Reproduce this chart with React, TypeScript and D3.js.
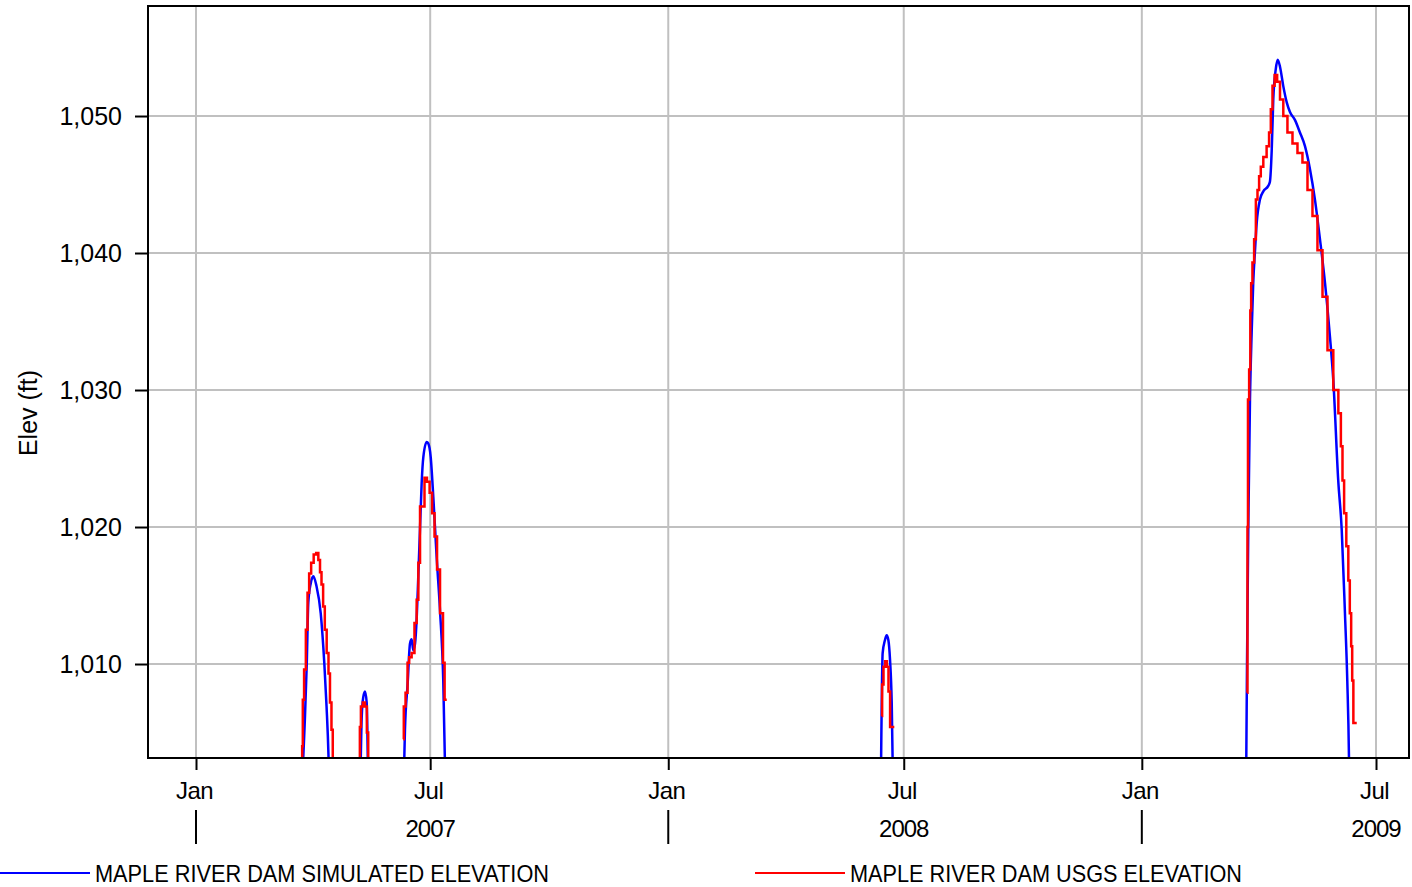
import React, { useRef, useEffect } from 'react';
import * as d3 from 'd3';

// days counted from 2007-01-01 (UTC), elevation in ft
const BASE_DATE = Date.UTC(2007, 0, 1);
const X_DOMAIN_DAYS = [-37.1, 937.5];
const Y_DOMAIN = [1003.14, 1058.03];
const Y_TICKS = [1010, 1020, 1030, 1040, 1050];
const MONTH_TICKS = ['2007-01-01', '2007-07-01', '2008-01-01', '2008-07-01', '2009-01-01', '2009-07-01'];
const YEAR_TICKS = ['2007-01-01', '2008-01-01', '2009-01-01'];
const YEAR_LABELS = [['2007-07-01', '2007'], ['2008-07-01', '2008'], ['2009-07-01', '2009']];

// simulated elevation, one array per wet period
const simApr2007 = [[81.2, 1000], [84.2, 1006.1], [85.6, 1010], [86.8, 1014.5], [88.7, 1015.9], [90.7, 1016.4],
  [93.1, 1015.7], [96.4, 1013.7], [99.2, 1010], [100.9, 1006.9], [102.4, 1003.3], [103.2, 1000]];
const simMay2007 = [[126.8, 1000], [128.1, 1006.2], [129.3, 1007.6], [130.6, 1008], [131.9, 1007.2], [133.2, 1000]];
const simJun2007 = [[160.2, 1000], [161.5, 1005.2], [163.6, 1008.6], [165.4, 1011.5], [166.7, 1011.8], [167.9, 1011],
  [169.3, 1011.5], [170.6, 1013.4], [171.8, 1016.4], [173.1, 1019.8], [174.4, 1023.2], [175.7, 1025.1],
  [178.3, 1026.2], [179.5, 1026.1], [181.4, 1025.1], [183.4, 1022.2], [186.0, 1017.8], [188.6, 1013.9],
  [191.1, 1008.8], [193.0, 1000]];
const simJun2008 = [[529.2, 1000], [530.7, 1010.8], [532.5, 1011.75], [533.8, 1012.1], [535.1, 1011.75],
  [536.4, 1010.3], [537.7, 1007.2], [538.9, 1000]];
const simSpring2009 = [[811.5, 1000], [812.3, 1010], [813.3, 1020], [814.6, 1029.3], [815.9, 1034.2], [817.1, 1037.8],
  [818.5, 1040.2], [819.8, 1042.2], [822.3, 1043.9], [824.9, 1044.5], [828.7, 1044.9], [830.0, 1045.2],
  [831.4, 1047.5], [832.6, 1051.2], [834.5, 1053.4], [836.0, 1054.1], [837.8, 1053.6], [840.3, 1052.2],
  [843.0, 1051], [845.5, 1050.3], [849.4, 1049.7], [853.2, 1048.8], [857.1, 1047.8], [861.0, 1046.1],
  [864.8, 1043.9], [868.7, 1041], [872.6, 1037.8], [876.4, 1033.9], [879.0, 1030.7], [882.8, 1023.4],
  [885.5, 1019.8], [888.0, 1013.7], [889.8, 1008.8], [891.1, 1003.2], [891.5, 1000]];

// USGS observed elevation
const usgsApr2007 = [[81.9, 1001], [82.2, 1004], [82.9, 1007.4], [84.2, 1009.6], [85.6, 1012.5], [86.8, 1015.2],
  [88.1, 1016.6], [89.9, 1017.4], [92.0, 1018], [93.8, 1018.1], [95.3, 1017.6], [96.4, 1016.7], [97.6, 1015.8],
  [98.9, 1014.2], [100.2, 1012.5], [101.8, 1010.8], [103.0, 1009.3], [104.1, 1007.2], [105.3, 1005.2], [106.1, 1001]];
const usgsMay2007 = [[126.5, 1001], [126.8, 1005.4], [128.1, 1006.9], [129.8, 1007.2], [131.4, 1006.9],
  [132.7, 1005], [133.5, 1001]];
const usgsJun2007 = [[160.2, 1004.5], [161.0, 1006.9], [162.9, 1007.9], [164.1, 1010.1], [165.4, 1010.5],
  [167.9, 1010.8], [169.8, 1013], [171.3, 1014.7], [172.4, 1017.4], [173.9, 1021.5], [175.7, 1021.5],
  [177.5, 1023.6], [179.5, 1023.3], [181.6, 1022.5], [183.4, 1021], [185.3, 1019.3], [187.3, 1016.9],
  [189.9, 1013.7], [191.9, 1010.1], [192.4, 1007.4], [193.8, 1007.4]];
const usgsJun2008 = [[529.9, 1006.2], [530.7, 1008.5], [532.0, 1009.8], [533.3, 1010.2], [534.6, 1009.8],
  [535.8, 1008], [537.1, 1005.4], [539.7, 1005.4]];
const usgsSpring2009 = [[812.5, 1007.9], [812.8, 1020], [813.3, 1029.3], [814.6, 1031.5], [815.1, 1035.8],
  [815.9, 1037.8], [817.1, 1039.3], [818.5, 1041], [819.8, 1043.9], [821.0, 1044.6], [822.3, 1045.6],
  [823.6, 1046.3], [826.2, 1047], [828.7, 1047.8], [830.0, 1048.8], [831.4, 1050.5], [832.6, 1052.2],
  [834.7, 1053], [836.5, 1052.5], [839.1, 1051.2], [841.6, 1050], [845.5, 1048.8], [849.4, 1048],
  [853.2, 1047.3], [857.1, 1046.6], [861.0, 1044.6], [864.8, 1042.7], [868.7, 1040.2], [872.6, 1036.8],
  [876.4, 1032.9], [881.6, 1030], [884.2, 1028.3], [885.5, 1025.9], [886.7, 1023.4], [888.0, 1021],
  [890.1, 1018.6], [891.1, 1016.1], [892.4, 1013.7], [893.2, 1011.3], [894.0, 1008.8], [895.0, 1005.7],
  [897.1, 1005.7]];

const simSegments = [simApr2007, simMay2007, simJun2007, simJun2008, simSpring2009];
const usgsSegments = [usgsApr2007, usgsMay2007, usgsJun2007, usgsJun2008, usgsSpring2009];

const LEGEND = [
  { label: 'MAPLE RIVER DAM SIMULATED ELEVATION', color: '#0000ff' },
  { label: 'MAPLE RIVER DAM USGS ELEVATION', color: '#ff0000' },
];

const dayToDate = (d: number) => new Date(BASE_DATE + d * 86400000);
const parse = (s: string) => new Date(s + 'T00:00:00Z');

export default function App() {
  const svgRef = useRef<SVGSVGElement>(null);
  const width = 1412;
  const height = 887;
  const margin = { top: 6, right: 3, bottom: 129, left: 148 };
  const font = 'Liberation Sans, Arial, sans-serif';

  useEffect(() => {
    const svg = d3.select(svgRef.current);
    svg.selectAll('*').remove();

    const x = d3.scaleUtc()
      .domain(X_DOMAIN_DAYS.map(dayToDate))
      .range([margin.left, width - margin.right]);
    const y = d3.scaleLinear()
      .domain(Y_DOMAIN)
      .range([height - margin.bottom, margin.top]);

    const x0 = margin.left, x1 = width - margin.right;
    const y0 = height - margin.bottom, y1 = margin.top;

    svg.append('clipPath').attr('id', 'plot-clip')
      .append('rect')
      .attr('x', x0).attr('y', y1)
      .attr('width', x1 - x0).attr('height', y0 - y1);

    // grid
    const grid = svg.append('g').attr('stroke', '#c0c0c0').attr('stroke-width', 2);
    grid.selectAll('line.v')
      .data(MONTH_TICKS.map(parse))
      .join('line')
      .attr('x1', d => x(d)).attr('x2', d => x(d))
      .attr('y1', y1).attr('y2', y0);
    grid.selectAll('line.h')
      .data(Y_TICKS)
      .join('line')
      .attr('class', 'h')
      .attr('x1', x0).attr('x2', x1)
      .attr('y1', d => y(d)).attr('y2', d => y(d));

    // series
    const line = d3.line<number[]>()
      .x(d => x(dayToDate(d[0])))
      .y(d => y(d[1]));

    const plot = svg.append('g').attr('clip-path', 'url(#plot-clip)');
    plot.selectAll('path.sim')
      .data(simSegments)
      .join('path')
      .attr('class', 'sim')
      .attr('fill', 'none')
      .attr('stroke', '#0000ff')
      .attr('stroke-width', 2.5)
      .attr('d', d => line.curve(d3.curveMonotoneX)(d));
    plot.selectAll('path.usgs')
      .data(usgsSegments)
      .join('path')
      .attr('class', 'usgs')
      .attr('fill', 'none')
      .attr('stroke', '#ff0000')
      .attr('stroke-width', 2.5)
      .attr('d', d => line.curve(d3.curveStep)(d));

    // frame
    svg.append('rect')
      .attr('x', x0).attr('y', y1)
      .attr('width', x1 - x0).attr('height', y0 - y1)
      .attr('fill', 'none')
      .attr('stroke', 'black')
      .attr('stroke-width', 2);

    // y axis
    svg.append('g')
      .attr('transform', `translate(${x0},0)`)
      .call(d3.axisLeft(y).tickValues(Y_TICKS).tickFormat(d3.format(',')).tickSize(13).tickPadding(13))
      .call(g => g.select('.domain').remove())
      .call(g => g.selectAll('.tick line').attr('stroke', 'black').attr('stroke-width', 2))
      .call(g => g.selectAll('.tick text')
        .attr('fill', 'black')
        .attr('font-size', 25)
        .attr('font-family', font));

    svg.append('text')
      .attr('transform', `translate(37,${(y0 + y1) / 2 + 31}) rotate(-90)`)
      .attr('text-anchor', 'middle')
      .attr('font-size', 25)
      .attr('font-family', font)
      .text('Elev (ft)');

    // x axis: month ticks and labels
    svg.append('g')
      .attr('transform', `translate(0,${y0})`)
      .call(d3.axisBottom(x)
        .tickValues(MONTH_TICKS.map(parse))
        .tickFormat(d3.utcFormat('%b'))
        .tickSize(12)
        .tickPadding(12))
      .call(g => g.select('.domain').remove())
      .call(g => g.selectAll('.tick line').attr('stroke', 'black').attr('stroke-width', 2))
      .call(g => g.selectAll('.tick text')
        .attr('fill', 'black')
        .attr('dx', -2)
        .attr('font-size', 24)
        .attr('font-family', font)
        .attr('letter-spacing', -0.5));

    // year separators and year labels
    svg.append('g')
      .selectAll('line')
      .data(YEAR_TICKS.map(parse))
      .join('line')
      .attr('x1', d => x(d)).attr('x2', d => x(d))
      .attr('y1', y0 + 52).attr('y2', y0 + 86)
      .attr('stroke', 'black')
      .attr('stroke-width', 2);
    svg.append('g')
      .selectAll('text')
      .data(YEAR_LABELS)
      .join('text')
      .attr('x', d => x(parse(d[0])))
      .attr('y', y0 + 79)
      .attr('text-anchor', 'middle')
      .attr('font-size', 24)
      .attr('font-family', font)
      .attr('letter-spacing', -1)
      .text(d => d[1]);

    // legend
    const legendX = [0, 755];
    const legendText = [454, 392];
    const lg = svg.append('g')
      .selectAll('g')
      .data(LEGEND)
      .join('g')
      .attr('transform', (d, i) => `translate(${legendX[i]},873)`);
    lg.append('line')
      .attr('x1', 0).attr('x2', 90)
      .attr('stroke', d => d.color)
      .attr('stroke-width', 2);
    lg.append('text')
      .attr('x', 95)
      .attr('y', 9)
      .attr('font-size', 24)
      .attr('font-family', font)
      .attr('textLength', (d, i) => legendText[i])
      .attr('lengthAdjust', 'spacingAndGlyphs')
      .text(d => d.label);
  }, []);

  return <svg ref={svgRef} width={width} height={height}
    style={{ position: 'absolute', left: 0, top: 0, background: 'white' }} />;
}
